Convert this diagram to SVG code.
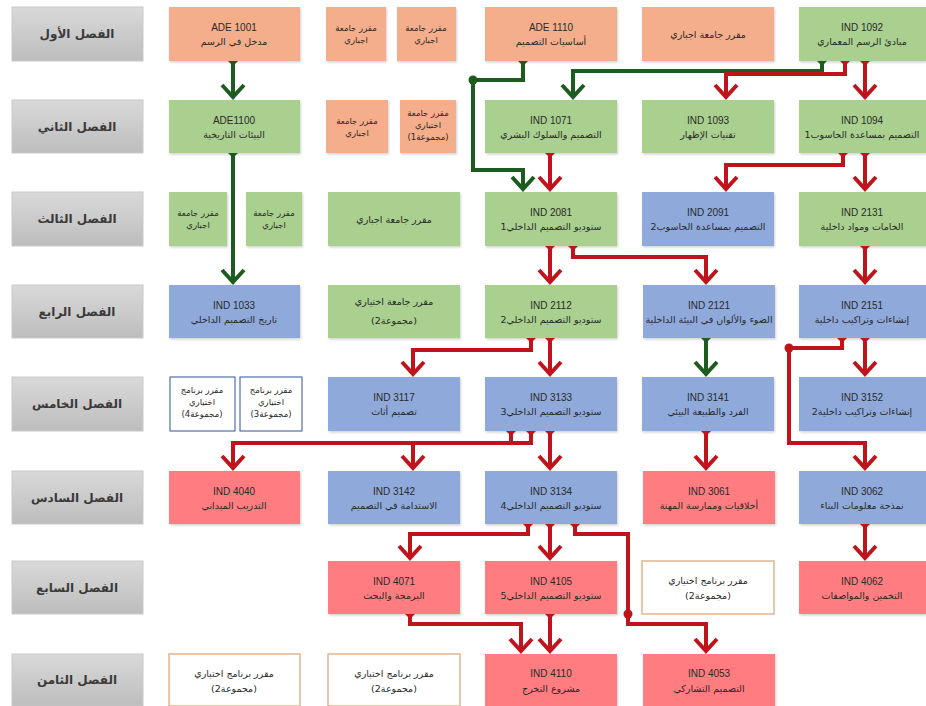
<svg xmlns="http://www.w3.org/2000/svg" width="926" height="706" viewBox="0 0 926 706">
<defs>
<style>
.lbl{fill:url(#gl);stroke:#c9c9c9;stroke-width:1}
.or{fill:#F5AE8B}
.gr{fill:#A9D08E}
.bl{fill:#8FA9DB}
.rd{fill:#FF7C80}
.wb{fill:#fff;stroke:#2F5597;stroke-width:1}
.wo{fill:#fff;stroke:#E3B48F;stroke-width:1.5}
.box{filter:url(#sh)}
text{font-family:"DejaVu Sans","Noto Sans",sans-serif;fill:#2a2a2a;text-anchor:middle}
.t{font-size:12px;font-weight:bold;fill:#3a3a3a}
.c{font-family:"Liberation Sans",Arial,sans-serif;font-size:10px}
.a{font-size:9.5px}
.s{font-size:8.5px}
.lr{fill:none;stroke:#C0141C;stroke-width:4;marker-start:url(#capR);marker-end:url(#arR)}
.lg{fill:none;stroke:#1E5B1E;stroke-width:4;marker-start:url(#capG);marker-end:url(#arG)}
</style>
<linearGradient id="gl" x1="0" y1="0" x2="0" y2="1">
<stop offset="0" stop-color="#D9D9D9"/>
<stop offset="1" stop-color="#BDBDBD"/>
</linearGradient>
<filter id="sh" x="-5%" y="-5%" width="110%" height="120%">
<feDropShadow dx="1" dy="1.5" stdDeviation="1" flood-color="#000" flood-opacity="0.18"/>
</filter>
<marker id="arR" markerUnits="userSpaceOnUse" viewBox="-16 -14 20 28" refX="0" refY="0" markerWidth="20" markerHeight="28" orient="auto" overflow="visible">
<path d="M-12,-11 L0,0 L-12,11" fill="none" stroke="#C0141C" stroke-width="4"/>
</marker>
<marker id="arG" markerUnits="userSpaceOnUse" viewBox="-16 -14 20 28" refX="0" refY="0" markerWidth="20" markerHeight="28" orient="auto" overflow="visible">
<path d="M-12,-11 L0,0 L-12,11" fill="none" stroke="#1E5B1E" stroke-width="4"/>
</marker>
<marker id="capR" markerUnits="userSpaceOnUse" viewBox="0 -6 7 12" refX="0" refY="0" markerWidth="7" markerHeight="12" orient="auto" overflow="visible">
<path d="M0,-5 L5,0 L0,5 Z" fill="#C0141C"/>
</marker>
<marker id="capG" markerUnits="userSpaceOnUse" viewBox="0 -6 7 12" refX="0" refY="0" markerWidth="7" markerHeight="12" orient="auto" overflow="visible">
<path d="M0,-5 L5,0 L0,5 Z" fill="#1E5B1E"/>
</marker>
</defs>
<rect width="926" height="706" fill="#fff"/>

<!-- semester labels -->
<g id="sem1"><rect class="lbl" x="12" y="7" width="131" height="54"/><text class="t" x="77" y="38" direction="rtl">الفصل الأول</text></g>
<g id="sem2"><rect class="lbl" x="12" y="100" width="131" height="53"/><text class="t" x="77" y="131" direction="rtl">الفصل الثاني</text></g>
<g id="sem3"><rect class="lbl" x="12" y="192" width="131" height="54"/><text class="t" x="77" y="223" direction="rtl">الفصل الثالث</text></g>
<g id="sem4"><rect class="lbl" x="12" y="285" width="131" height="53"/><text class="t" x="77" y="316" direction="rtl">الفصل الرابع</text></g>
<g id="sem5"><rect class="lbl" x="12" y="377" width="131" height="54"/><text class="t" x="77" y="408" direction="rtl">الفصل الخامس</text></g>
<g id="sem6"><rect class="lbl" x="12" y="471" width="131" height="53"/><text class="t" x="77" y="502" direction="rtl">الفصل السادس</text></g>
<g id="sem7"><rect class="lbl" x="12" y="561" width="131" height="53"/><text class="t" x="77" y="592" direction="rtl">الفصل السابع</text></g>
<g id="sem8"><rect class="lbl" x="12" y="654" width="131" height="52"/><text class="t" x="77" y="684" direction="rtl">الفصل الثامن</text></g>

<!-- row 1 -->
<g id="ADE1001"><rect class="or box" x="169" y="7" width="131" height="54"/><text class="c" x="234" y="31">ADE 1001</text><text class="a" x="234" y="45" direction="rtl">مدخل في الرسم</text></g>
<g id="r1s1"><rect class="or box" x="326" y="7" width="60" height="54"/><text class="s" x="356" y="31" direction="rtl">مقرر جامعة</text><text class="s" x="356" y="43" direction="rtl">اجباري</text></g>
<g id="r1s2"><rect class="or box" x="397" y="7" width="59" height="54"/><text class="s" x="426" y="31" direction="rtl">مقرر جامعة</text><text class="s" x="426" y="43" direction="rtl">اجباري</text></g>
<g id="ADE1110"><rect class="or box" x="485" y="7" width="132" height="54"/><text class="c" x="551" y="31">ADE 1110</text><text class="a" x="551" y="45" direction="rtl">أساسيات التصميم</text></g>
<g id="r1u"><rect class="or box" x="642" y="7" width="132" height="54"/><text class="a" x="708" y="38" direction="rtl">مقرر جامعة اجباري</text></g>
<g id="IND1092"><rect class="gr box" x="799" y="7" width="127" height="54"/><text class="c" x="862" y="31">IND 1092</text><text class="a" x="862" y="45" direction="rtl">مبادئ الرسم المعماري</text></g>

<!-- row 2 -->
<g id="ADE1100"><rect class="gr box" x="169" y="100" width="131" height="53"/><text class="c" x="234" y="124">ADE1100</text><text class="a" x="234" y="138" direction="rtl">البيئات التاريخية</text></g>
<g id="r2s1"><rect class="or box" x="326" y="100" width="62" height="53"/><text class="s" x="357" y="124" direction="rtl">مقرر جامعة</text><text class="s" x="357" y="136" direction="rtl">اجباري</text></g>
<g id="r2s2"><rect class="or box" x="400" y="100" width="56" height="53"/><text class="s" x="428" y="116" direction="rtl">مقرر جامعة</text><text class="s" x="428" y="128" direction="rtl">اختياري</text><text class="s" x="428" y="140" direction="rtl">(مجموعة1)</text></g>
<g id="IND1071"><rect class="gr box" x="485" y="100" width="132" height="53"/><text class="c" x="551" y="124">IND 1071</text><text class="a" x="551" y="138" direction="rtl">التصميم والسلوك البشري</text></g>
<g id="IND1093"><rect class="gr box" x="642" y="100" width="132" height="53"/><text class="c" x="708" y="124">IND 1093</text><text class="a" x="708" y="138" direction="rtl">تقنيات الإظهار</text></g>
<g id="IND1094"><rect class="gr box" x="799" y="100" width="127" height="53"/><text class="c" x="862" y="124">IND 1094</text><text class="a" x="862" y="138" direction="rtl">التصميم بمساعدة الحاسوب1</text></g>

<!-- row 3 -->
<g id="r3s1"><rect class="gr box" x="169" y="192" width="58" height="54"/><text class="s" x="198" y="216" direction="rtl">مقرر جامعة</text><text class="s" x="198" y="228" direction="rtl">اجباري</text></g>
<g id="r3s2"><rect class="gr box" x="246" y="192" width="56" height="54"/><text class="s" x="274" y="216" direction="rtl">مقرر جامعة</text><text class="s" x="274" y="228" direction="rtl">اجباري</text></g>
<g id="r3u"><rect class="gr box" x="328" y="192" width="132" height="54"/><text class="a" x="394" y="223" direction="rtl">مقرر جامعة اجباري</text></g>
<g id="IND2081"><rect class="gr box" x="485" y="192" width="132" height="54"/><text class="c" x="551" y="216">IND 2081</text><text class="a" x="551" y="230" direction="rtl">ستوديو التصميم الداخلي1</text></g>
<g id="IND2091"><rect class="bl box" x="642" y="192" width="132" height="54"/><text class="c" x="708" y="216">IND 2091</text><text class="a" x="708" y="230" direction="rtl">التصميم بمساعدة الحاسوب2</text></g>
<g id="IND2131"><rect class="gr box" x="799" y="192" width="127" height="54"/><text class="c" x="862" y="216">IND 2131</text><text class="a" x="862" y="230" direction="rtl">الخامات ومواد داخلية</text></g>

<!-- row 4 -->
<g id="IND1033"><rect class="bl box" x="169" y="285" width="131" height="53"/><text class="c" x="234" y="309">IND 1033</text><text class="a" x="234" y="323" direction="rtl">تاريخ التصميم الداخلي</text></g>
<g id="r4u"><rect class="gr box" x="328" y="285" width="132" height="53"/><text class="a" x="394" y="305" direction="rtl">مقرر جامعة اختياري</text><text class="a" x="394" y="324" direction="rtl">(مجموعة2)</text></g>
<g id="IND2112"><rect class="gr box" x="485" y="285" width="132" height="53"/><text class="c" x="551" y="309">IND 2112</text><text class="a" x="551" y="323" direction="rtl">ستوديو التصميم الداخلي2</text></g>
<g id="IND2121"><rect class="bl box" x="643" y="285" width="132" height="53"/><text class="c" x="709" y="309">IND 2121</text><text class="a" x="709" y="323" direction="rtl">الضوء والألوان في البيئة الداخلية</text></g>
<g id="IND2151"><rect class="bl box" x="799" y="285" width="127" height="53"/><text class="c" x="862" y="309">IND 2151</text><text class="a" x="862" y="323" direction="rtl">إنشاءات وتراكيب داخلية</text></g>

<!-- row 5 -->
<g id="r5w1"><rect class="wb" x="170" y="377" width="65" height="54"/><text class="s" x="202" y="393" direction="rtl">مقرر برنامج</text><text class="s" x="202" y="405" direction="rtl">اختياري</text><text class="s" x="202" y="417" direction="rtl">(مجموعة4)</text></g>
<g id="r5w2"><rect class="wb" x="240" y="377" width="62" height="54"/><text class="s" x="271" y="393" direction="rtl">مقرر برنامج</text><text class="s" x="271" y="405" direction="rtl">اختياري</text><text class="s" x="271" y="417" direction="rtl">(مجموعة3)</text></g>
<g id="IND3117"><rect class="bl box" x="328" y="377" width="132" height="54"/><text class="c" x="394" y="401">IND 3117</text><text class="a" x="394" y="415" direction="rtl">تصميم أثاث</text></g>
<g id="IND3133"><rect class="bl box" x="485" y="377" width="132" height="54"/><text class="c" x="551" y="401">IND 3133</text><text class="a" x="551" y="415" direction="rtl">ستوديو التصميم الداخلي3</text></g>
<g id="IND3141"><rect class="bl box" x="642" y="377" width="132" height="54"/><text class="c" x="708" y="401">IND 3141</text><text class="a" x="708" y="415" direction="rtl">الفرد والطبيعة البيئي</text></g>
<g id="IND3152"><rect class="bl box" x="799" y="377" width="127" height="54"/><text class="c" x="862" y="401">IND 3152</text><text class="a" x="862" y="415" direction="rtl">إنشاءات وتراكيب داخلية2</text></g>

<!-- row 6 -->
<g id="IND4040"><rect class="rd box" x="169" y="471" width="131" height="53"/><text class="c" x="234" y="495">IND 4040</text><text class="a" x="234" y="509" direction="rtl">التدريب الميداني</text></g>
<g id="IND3142"><rect class="bl box" x="328" y="471" width="132" height="53"/><text class="c" x="394" y="495">IND 3142</text><text class="a" x="394" y="509" direction="rtl">الاستدامة في التصميم</text></g>
<g id="IND3134"><rect class="bl box" x="485" y="471" width="132" height="53"/><text class="c" x="551" y="495">IND 3134</text><text class="a" x="551" y="509" direction="rtl">ستوديو التصميم الداخلي4</text></g>
<g id="IND3061"><rect class="rd box" x="643" y="471" width="132" height="53"/><text class="c" x="709" y="495">IND 3061</text><text class="a" x="709" y="509" direction="rtl">أخلاقيات وممارسة المهنة</text></g>
<g id="IND3062"><rect class="bl box" x="799" y="471" width="127" height="53"/><text class="c" x="862" y="495">IND 3062</text><text class="a" x="862" y="509" direction="rtl">نمذجة معلومات البناء</text></g>

<!-- row 7 -->
<g id="IND4071"><rect class="rd box" x="328" y="561" width="132" height="53"/><text class="c" x="394" y="585">IND 4071</text><text class="a" x="394" y="599" direction="rtl">البرمجة والبحث</text></g>
<g id="IND4105"><rect class="rd box" x="485" y="561" width="132" height="53"/><text class="c" x="551" y="585">IND 4105</text><text class="a" x="551" y="599" direction="rtl">ستوديو التصميم الداخلي5</text></g>
<g id="r7w"><rect class="wo" x="642" y="561" width="132" height="53"/><text class="a" x="708" y="584" direction="rtl">مقرر برنامج اختياري</text><text class="a" x="708" y="599" direction="rtl">(مجموعة2)</text></g>
<g id="IND4062"><rect class="rd box" x="799" y="561" width="127" height="53"/><text class="c" x="862" y="585">IND 4062</text><text class="a" x="862" y="599" direction="rtl">التخمين والمواصفات</text></g>

<!-- row 8 -->
<g id="r8w1"><rect class="wo" x="169" y="654" width="131" height="52"/><text class="a" x="234" y="677" direction="rtl">مقرر برنامج اختياري</text><text class="a" x="234" y="692" direction="rtl">(مجموعة2)</text></g>
<g id="r8w2"><rect class="wo" x="328" y="654" width="132" height="52"/><text class="a" x="394" y="677" direction="rtl">مقرر برنامج اختياري</text><text class="a" x="394" y="692" direction="rtl">(مجموعة2)</text></g>
<g id="IND4110"><rect class="rd box" x="485" y="654" width="132" height="52"/><text class="c" x="551" y="677">IND 4110</text><text class="a" x="551" y="692" direction="rtl">مشروع التخرج</text></g>
<g id="IND4053"><rect class="rd box" x="643" y="654" width="132" height="52"/><text class="c" x="709" y="677">IND 4053</text><text class="a" x="709" y="692" direction="rtl">التصميم التشاركي</text></g>

<!-- connectors -->
<g id="connectors">
<polyline class="lg" points="822,61 822,71 573,71 573,97"/>
<polyline class="lr" points="845,61 845,74 726,74 726,97"/>
<polyline class="lr" points="865,61 865,97"/>
<polyline class="lg" points="233,61 233,97"/>
<polyline class="lg" points="233,153 233,282"/>
<polyline class="lg" points="523,61 523,80 473,80 473,170 523,170 523,189"/>
<circle cx="473" cy="80" r="4.5" fill="#1E5B1E"/>
<polyline class="lr" points="550,153 550,189"/>
<polyline class="lr" points="843,153 843,165 726,165 726,189"/>
<polyline class="lr" points="865,153 865,189"/>
<polyline class="lr" points="550,246 550,282"/>
<polyline class="lr" points="573,246 573,257 706,257 706,282"/>
<polyline class="lr" points="865,246 865,282"/>
<polyline class="lr" points="531,338 531,350 413,350 413,374"/>
<polyline class="lr" points="550,338 550,374"/>
<polyline class="lg" points="706,338 706,374"/>
<polyline class="lr" points="842,338 842,348 789,348 789,443 865,443 865,468"/>
<circle cx="789" cy="348" r="4.5" fill="#C0141C"/>
<polyline class="lr" points="865,338 865,374"/>
<polyline class="lr" points="531,431 531,443 233,443 233,468"/>
<polyline class="lr" points="511,431 511,443 413,443 413,468"/>
<polyline class="lr" points="550,431 550,468"/>
<polyline class="lr" points="706,431 706,468"/>
<polyline class="lr" points="528,524 528,534 410,534 410,558"/>
<polyline class="lr" points="550,524 550,558"/>
<polyline class="lr" points="575,524 575,534 628,534 628,624 706,624 706,651"/>
<circle cx="628" cy="614" r="4.5" fill="#C0141C"/>
<polyline class="lr" points="865,524 865,558"/>
<polyline class="lr" points="410,614 410,624 521,624 521,651"/>
<polyline class="lr" points="550,614 550,651"/>
</g>
</svg>
